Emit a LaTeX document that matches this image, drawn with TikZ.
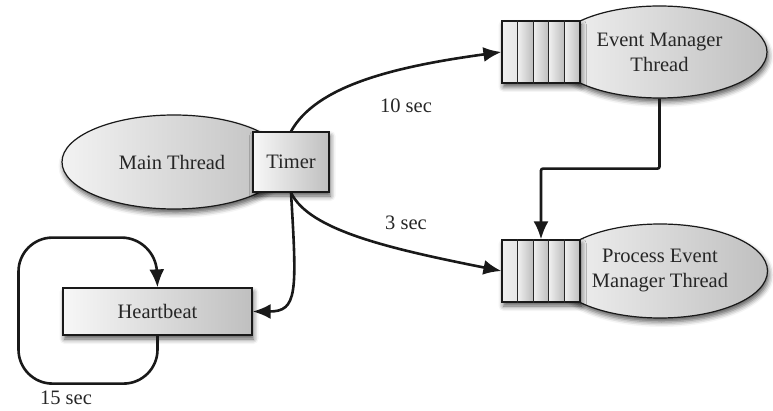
\documentclass[tikz,border=0pt]{standalone}
\usepackage{fontspec}
\setmainfont{Liberation Serif}
\usetikzlibrary{arrows.meta,shadows.blur,shapes.geometric,calc}
\begin{document}
\begin{tikzpicture}[x=1pt,y=1pt,
  txt/.style={font=\fontsize{20.5}{25}\selectfont, text=black!85},
  shadowed/.style={blur shadow={shadow xshift=1.5pt, shadow yshift=-4pt,
      shadow blur radius=5pt, shadow opacity=65}},
  thread/.style={ellipse, draw=black!90, line width=1.2pt, inner sep=0pt,
      left color=black!5, right color=black!25, shadowed, txt, align=center},
  plainbox/.style={rectangle, draw=black!90, line width=1.2pt, inner sep=0pt,
      left color=black!3, right color=black!25, shadowed, txt},
  queue/.style={rectangle, draw=black!90, line width=1.2pt, inner sep=0pt,
      minimum width=78pt, minimum height=62pt, fill=white, shadowed,
      path picture={
        \foreach \i in {0,...,4}
          \shade[left color=black!6, right color=black!26]
            ($(path picture bounding box.south west)+(\i*15.6,0)$) rectangle ++(15.6,62);
      }},
  conn/.style={line width=2.6pt, draw=black!90,
      -{Latex[length=18pt,width=15pt]}},
  lbl/.style={txt, inner sep=0pt}
]
\useasboundingbox (0,0) rectangle (773,-411);

% main thread with its timer
\node[thread, minimum width=224pt, minimum height=94pt] (mt) at (174,-162) {};
\node[txt] (mtl) at (172,-162) {Main Thread};
\node[plainbox, minimum width=76pt, minimum height=60pt] (tm) at (291,-162) {Timer};

% event manager thread and its queue
\node[thread, minimum width=215pt, minimum height=92pt] (em) at (659.5,-52)
  {Event Manager\\Thread};
\node[queue] (eq) at (541,-52) {};
\foreach \i in {1,...,4}
  \draw[line width=1.1pt, black!85] ($(eq.north west)!\i/5!(eq.north east)$) -- ($(eq.south west)!\i/5!(eq.south east)$);

% process event manager thread and its queue
\node[thread, minimum width=215pt, minimum height=94pt] (pe) at (660,-271)
  {Process Event\\Manager Thread};
\node[queue] (pq) at (541,-271) {};
\foreach \i in {1,...,4}
  \draw[line width=1.1pt, black!85] ($(pq.north west)!\i/5!(pq.north east)$) -- ($(pq.south west)!\i/5!(pq.south east)$);

% heartbeat
\node[plainbox, minimum width=189pt, minimum height=47pt] (hb) at (157.5,-311.5) {Heartbeat};

% connectors
\draw[conn] (tm.north) .. controls +(25,45) and +(-110,-15) .. (eq.west);
\node[lbl] (l10) at (406,-106) {10 sec};

\draw[conn] (tm.south) .. controls +(18,-38) and +(-110,22) .. (pq.west);
\node[lbl] (l3) at (406,-223) {3 sec};

\draw[conn] (tm.south) .. controls +(6,-100) and +(45,0) .. (hb.east);

\draw[conn, rounded corners=2pt] (em.south) -- ++(0,-70) -| (pq.north);

\draw[conn, rounded corners=34pt] (hb.south) -- ++(0,-48) -- ++(-139,0)
  -- ++(0,146) -- ++(137,0) -- (hb.north);
\node[lbl] (l15) at (66,-398) {15 sec};
\end{tikzpicture}
\end{document}
